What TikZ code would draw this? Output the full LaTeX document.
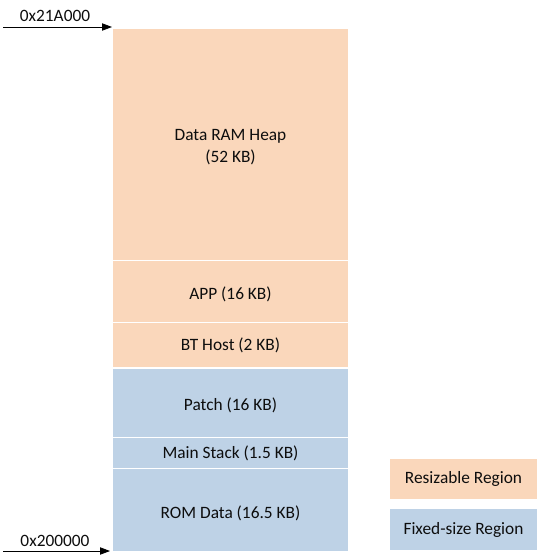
\documentclass[tikz,border=0pt]{standalone}
\usepackage{fontspec}
\setmainfont{Carlito}
\usetikzlibrary{arrows.meta}
\definecolor{peach}{HTML}{FAD7BB}
\definecolor{lblue}{HTML}{BED2E6}
\newcommand\lowtxt[1]{\raisebox{-2.2pt}[\height][\depth]{#1}}
\begin{document}
\begin{tikzpicture}[x=0.75pt,y=-0.75pt,
  font=\fontsize{13}{16.5}\selectfont,
  region/.style={draw=white, line width=1.1pt, inner sep=0pt, outer sep=0pt,
    minimum width={237*0.75pt}, align=center, text=black!95},
  legendbox/.style={inner sep=0pt, outer sep=0pt, minimum width={147*0.75pt},
    minimum height={40*0.75pt}, text=black!95},
  addr/.style={-{Triangle[length=7.5pt,width=5.5pt]}, line width=0.6pt},
  addrlabel/.style={text=black!95}]
\useasboundingbox (0,0) rectangle (539,560);
% memory regions
\node[region, fill=peach, minimum height={232.5*0.75pt}] (heap) at (230.5,144.25)
  {\lowtxt{\begin{tabular}{@{}c@{}}Data RAM Heap\\(52 KB)\end{tabular}}};
\node[region, fill=peach, minimum height={62*0.75pt}] (app) at (230.5,291.5) {\lowtxt{APP (16 KB)}};
\node[region, fill=peach, minimum height={45.5*0.75pt}] (bt) at (230.5,345.25) {BT Host (2 KB)};
\node[region, fill=lblue, minimum height={69.5*0.75pt}] (patch) at (230.5,402.75) {\lowtxt{Patch (16 KB)}};
\node[region, fill=lblue, minimum height={31*0.75pt}] (stack) at (230.5,453) {Main Stack (1.5 KB)};
\node[region, fill=lblue, minimum height={83.5*0.75pt}] (rom) at (230.5,510.25) {\lowtxt{ROM Data (16.5 KB)}};
% legend
\node[legendbox, fill=peach] (lres) at (463.5,479) {Resizable Region};
\node[legendbox, fill=lblue, minimum height={41*0.75pt}] (lfix) at (463.5,529.5) {Fixed-size Region};
% address arrows
\coordinate (topstart) at (3,27);
\coordinate (botstart) at (3,551);
\draw[addr] (topstart) -- (heap.north west |- topstart);
\draw[addr] (botstart) -- ([xshift=-1.5pt]rom.south west |- botstart);
\node[addrlabel] (toplabel) at (55,16) {0x21A000};
\node[addrlabel] (botlabel) at (55,541) {0x200000};
\end{tikzpicture}
\end{document}
